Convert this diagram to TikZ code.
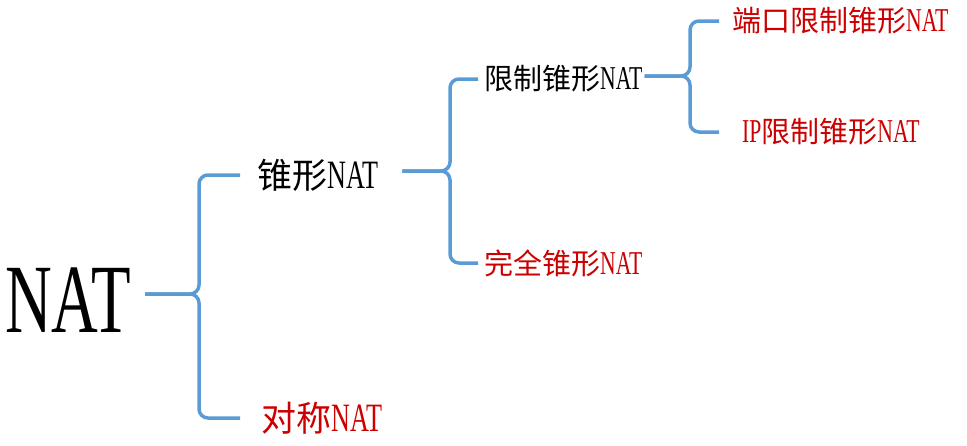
\documentclass[tikz,border=0pt]{standalone}
\usepackage{fontspec}
\setmainfont[FakeStretch=0.65, Scale=1.15]{Liberation Serif}
\newfontfamily\cjk{Noto Sans CJK SC}
\newfontfamily\bigfont[FakeStretch=0.66]{Liberation Serif}
\usetikzlibrary{calc}
\definecolor{braceblue}{RGB}{91,155,213}
\definecolor{txtred}{RGB}{204,0,0}
\tikzset{
  br/.style={draw=braceblue, line width=3.5pt, rounded corners=9pt},
  lvA/.style={anchor=west, inner sep=0pt, font=\fontsize{35}{40}\selectfont},
  lvB/.style={anchor=west, inner sep=0pt, font=\fontsize{29}{34}\selectfont},
  red/.style={text=txtred}
}
\begin{document}
\begin{tikzpicture}[x=1pt,y=-1pt]
\useasboundingbox (0,0) rectangle (967,445);
\node[anchor=west, inner sep=0pt, font=\bigfont\fontsize{98}{100}\selectfont] (nat) at (5,300) {NAT};
\node[lvA] (c1) at (257,175) {{\cjk 锥形}NAT};
\node[lvA, red] (c2) at (261,418) {{\cjk 对称}NAT};
\node[lvB] (c3) at (484,79) {{\cjk 限制锥形}NAT};
\node[lvB, red] (c4) at (484,263) {{\cjk 完全锥形}NAT};
\node[lvB, red] (c5) at (732,21) {{\cjk 端口限制锥形}NAT};
\node[lvB, red] (c6) at (742,132) {IP{\cjk 限制锥形}NAT};
\coordinate (v1) at (199,294);
\coordinate (v2) at (450,171);
\coordinate (v3) at (690,76);
% brace 1
\draw[br] ($(v1 -| nat.east)+(14,0)$) -- (v1) -- (v1 |- c1.west) -- ($(c1.west)+(-17,0)$);
\draw[br] ($(v1 -| nat.east)+(14,0)$) -- (v1) -- (v1 |- c2.west) -- ($(c2.west)+(-21,0)$);
% brace 2
\draw[br] ($(v2 -| c1.east)+(24,0)$) -- (v2) -- (v2 |- c3.west) -- ($(c3.west)+(-6,0)$);
\draw[br] ($(v2 -| c1.east)+(24,0)$) -- (v2) -- (v2 |- c4.west) -- ($(c4.west)+(-6,0)$);
% brace 3
\draw[br] ($(v3 -| c3.east)+(2,0)$) -- (v3) -- (v3 |- c5.west) -- ($(c5.west)+(-13,0)$);
\draw[br] ($(v3 -| c3.east)+(2,0)$) -- (v3) -- (v3 |- c6.west) -- ($(c6.west)+(-23,0)$);
\end{tikzpicture}
\end{document}
